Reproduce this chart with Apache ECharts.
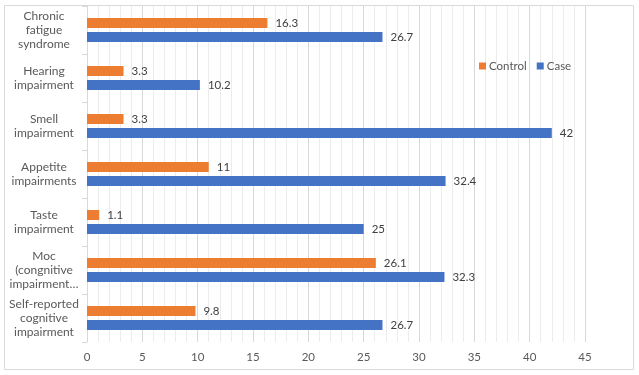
<!DOCTYPE html>
<html><head><meta charset="utf-8">
<script src="https://cdn.jsdelivr.net/npm/echarts@6/dist/echarts.min.js"></script>
<style>html,body{margin:0;padding:0;background:#fff}#c{width:639px;height:375px}</style>
</head><body><div id="c"></div>
<script>
const categories = ["Chronic\nfatigue\nsyndrome", "Hearing\nimpairment", "Smell\nimpairment", "Appetite\nimpairments", "Taste\nimpairment", "Moc\n(congnitive\nimpairment…", "Self-reported\ncognitive\nimpairment"];
const controlValues = [16.3, 3.3, 3.3, 11, 1.1, 26.1, 9.8];
const caseValues = [26.7, 10.2, 42, 32.4, 25, 32.3, 26.7];
const xTicks = [0, 5, 10, 15, 20, 25, 30, 35, 40, 45];

const chart = echarts.init(document.getElementById('c'), null, {renderer: 'canvas'});
const font = 'Lato, "Open Sans", sans-serif';
chart.setOption({
  animation: false,
  graphic: [{type: 'rect', shape: {x: 4.5, y: 5.5, width: 629, height: 364}, style: {fill: 'none', stroke: '#d9d9d9', lineWidth: 1}, z: -1}],
  legend: {
    data: ['Control', 'Case'], left: 474, top: 55, itemWidth: 7, itemHeight: 7, itemGap: 10,
    icon: 'rect', textStyle: {color: '#595959', fontSize: 11.5, fontFamily: font, padding: [0,0,0,-2]}
  },
  grid: {left: 87, right: 54, top: 6, bottom: 33},
  xAxis: {
    type: 'value', min: xTicks[0], max: xTicks[xTicks.length - 1], interval: 5,
    axisLine: {show: false}, axisTick: {show: false},
    axisLabel: {color: '#595959', fontSize: 11.5, fontFamily: font, margin: 9},
    splitLine: {show: true, lineStyle: {color: '#d9d9d9', width: 1}},
    minorTick: {show: false, splitNumber: 5},
    minorSplitLine: {show: true, lineStyle: {color: '#ececec', width: 1}}
  },
  yAxis: {
    type: 'category', data: categories, inverse: true,
    axisLine: {show: true, lineStyle: {color: '#d9d9d9'}},
    axisTick: {show: true, length: 5, lineStyle: {color: '#d9d9d9'}},
    axisLabel: {color: '#595959', fontSize: 12, fontFamily: font, align: 'center', margin: 43, lineHeight: 14}
  },
  series: [
    {name: 'Control', type: 'bar', data: controlValues, barWidth: 10, barGap: '40%',
     itemStyle: {color: '#ed7d31'},
     label: {show: true, position: 'right', distance: 8, color: '#404040', fontSize: 11.5, fontFamily: font}},
    {name: 'Case', type: 'bar', data: caseValues, barWidth: 10, barGap: '40%',
     itemStyle: {color: '#4472c4'},
     label: {show: true, position: 'right', distance: 8, color: '#404040', fontSize: 11.5, fontFamily: font}}
  ]
});
</script></body></html>
